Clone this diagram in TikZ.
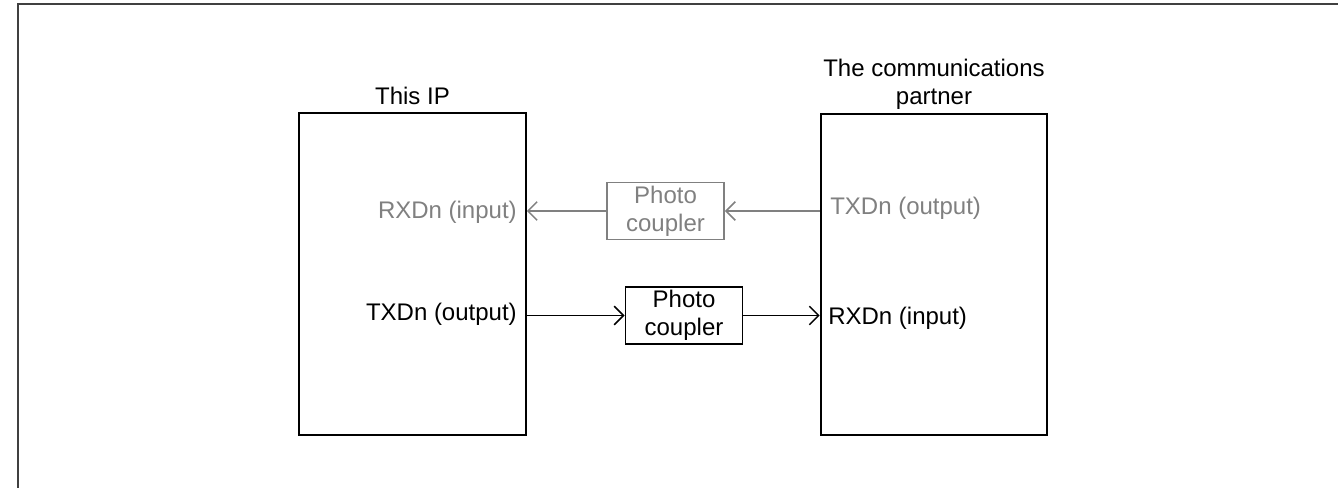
\documentclass[tikz,border=0pt]{standalone}
\usepackage{fontspec}
\setmainfont{Liberation Sans}
\usetikzlibrary{arrows.meta,positioning}
\definecolor{dimgray}{HTML}{808080}
\definecolor{framegray}{HTML}{404040}
\begin{document}
\begin{tikzpicture}[x=0.75pt, y=-0.75pt, font=\fontsize{18}{21}\selectfont,
    >={Straight Barb[length=7pt,width=14pt]},
    unitbox/.style={draw, line width=1.4pt, minimum width=170pt, minimum height=241pt, inner sep=0pt},
    couplerbox/.style={draw, line width=1.2pt, align=center, minimum width=88pt, minimum height=42.5pt, inner sep=0pt},
    caption/.style={align=center, inner sep=0pt, text depth=0pt},
    signal/.style={inner sep=0pt},
    arr/.style={->, line width=1.1pt}]

    \useasboundingbox (0,0) rectangle (1338,488);

    % --- Cornice ---
    \draw[framegray, line width=1.5pt] (17.5,488) -- (17.5,4) -- (1338,4);

    % --- Blocchi principali ---
    \node[unitbox] (ipbox) at (412.5, 274) {};
    \node[unitbox] (partnerbox) at (934, 274.5) {};

    \node[caption, above=6pt of ipbox] (ipname) {This IP};
    \node[caption, above=6pt of partnerbox] (partnername) {The communications\\partner};

    % --- Segnali ---
    \node[signal, text=dimgray, anchor=east] (rxin) at (517, 212) {RXDn (input)};
    \node[signal, anchor=east] (txout) at (517, 314) {TXDn (output)};
    \node[signal, text=dimgray, anchor=west] (txpartner) at (830, 208) {TXDn (output)};
    \node[signal, anchor=west] (rxpartner) at (828, 318) {RXDn (input)};

    % --- Fotoaccoppiatori ---
    \node[couplerbox, draw=dimgray, text=dimgray] (pcback) at (665.5, 211) {Photo\\coupler};
    \node[couplerbox] (pcfwd) at (684, 315.5) {Photo\\coupler};

    % --- Collegamenti ---
    \draw[arr, dimgray] (partnerbox.west |- pcback.east) -- (pcback.east);
    \draw[arr, dimgray] (pcback.west) -- (ipbox.east |- pcback.west);
    \draw[arr] (ipbox.east |- pcfwd.west) -- (pcfwd.west);
    \draw[arr] (pcfwd.east) -- (partnerbox.west |- pcfwd.east);

\end{tikzpicture}
\end{document}
